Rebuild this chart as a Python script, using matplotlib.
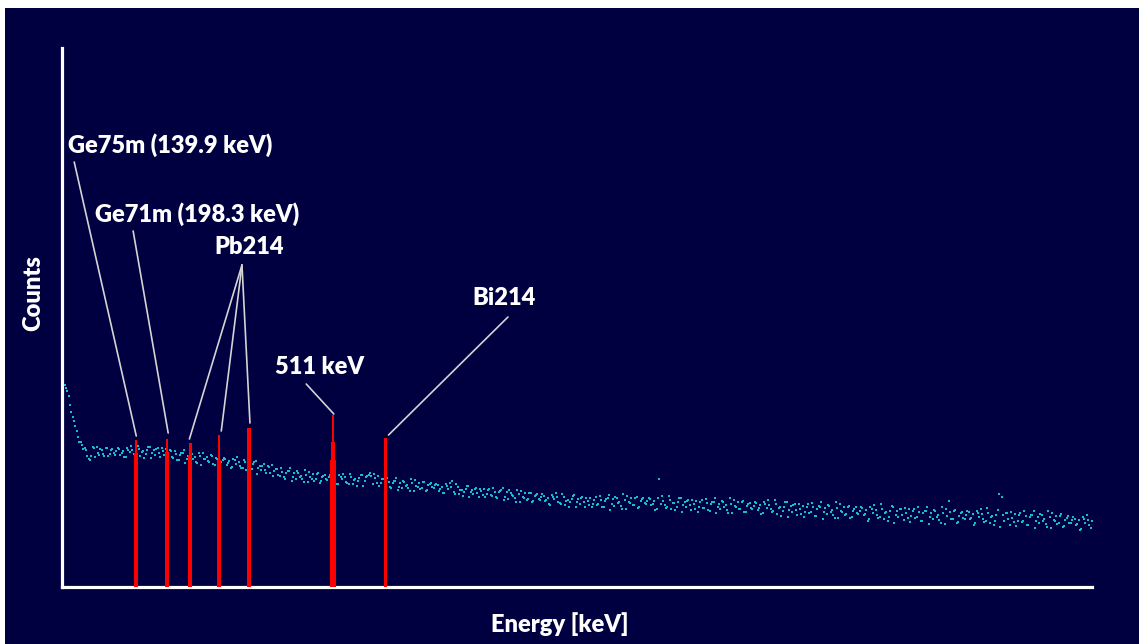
import numpy as np
import matplotlib
matplotlib.use("Agg")
import matplotlib.pyplot as plt
from matplotlib.patches import Rectangle

# gamma spectrum background (arbitrary counts), two interleaved sets of channels (keV)
energy_a = np.concatenate([[2], np.arange(5, 1945, 5)])
counts_a = [294,
    202, 196, 182, 170, 161, 150, 145, 138, 137, 128, 131, 139, 140, 132, 137, 131, 139, 133, 138, 132,
    139, 132, 136, 130, 137, 141, 133, 131, 138, 135, 129, 137, 140, 134, 132, 139, 130, 136, 138, 133,
    136, 129, 133, 127, 134, 137, 128, 126, 133, 130, 124, 131, 134, 128, 126, 132, 123, 129, 131, 125,
    129, 122, 126, 120, 127, 130, 121, 119, 125, 122, 116, 123, 126, 119, 117, 123, 114, 120, 122, 116,
    118, 111, 115, 108, 116, 119, 110, 108, 114, 111, 105, 112, 115, 108, 106, 113, 104, 110, 112, 107,
    112, 105, 109, 103, 110, 113, 105, 103, 110, 107, 101, 109, 112, 106, 111, 114, 103, 109, 111, 104,
    108, 101, 105, 99, 106, 109, 100, 99, 105, 102, 96, 104, 107, 100, 98, 105, 96, 102, 104, 99,
    103, 96, 100, 94, 101, 104, 106, 93, 100, 97, 91, 98, 101, 95, 93, 99, 90, 96, 98, 93,
    98, 91, 95, 89, 96, 99, 90, 88, 94, 91, 85, 93, 96, 89, 87, 94, 85, 91, 93, 87,
    93, 86, 89, 82, 90, 94, 85, 83, 90, 86, 80, 88, 92, 85, 83, 90, 80, 86, 89, 83,
    90, 83, 87, 80, 88, 92, 83, 81, 89, 85, 78, 87, 91, 84, 82, 89, 79, 86, 89, 83,
    89, 82, 86, 78, 108, 91, 82, 80, 87, 84, 77, 85, 89, 82, 80, 87, 77, 83, 86, 80,
    87, 79, 84, 76, 85, 89, 80, 78, 85, 82, 74, 83, 87, 80, 78, 85, 75, 81, 84, 78,
    85, 77, 82, 74, 83, 87, 78, 76, 83, 79, 71, 80, 85, 77, 75, 83, 72, 78, 81, 75,
    83, 75, 80, 71, 81, 85, 75, 73, 81, 77, 69, 79, 83, 75, 72, 80, 69, 76, 80, 73,
    80, 72, 77, 68, 78, 82, 72, 70, 78, 74, 66, 76, 80, 72, 70, 78, 67, 74, 78, 71,
    78, 70, 75, 66, 76, 80, 70, 68, 76, 72, 64, 74, 78, 86, 68, 76, 64, 71, 75, 68,
    76, 68, 73, 64, 74, 78, 68, 66, 74, 70, 62, 72, 93, 90, 66, 74, 62, 69, 73, 66,
    74, 66, 71, 62, 72, 76, 66, 64, 72, 68, 60, 70, 74, 66, 63, 71, 60, 67, 71, 64,
    70, 62, 67, 58, 68, 72, 62, 66]

energy_b = np.arange(7.5, 1940, 5)
counts_b = [
    199, 191, 175, 166, 156, 145, 142, 139, 131, 127, 140, 130, 134, 138, 133, 139, 131, 137, 134, 136,
    138, 134, 130, 139, 135, 137, 132, 141, 131, 136, 133, 140, 129, 137, 138, 134, 139, 132, 130, 137,
    130, 136, 127, 132, 134, 124, 131, 133, 128, 125, 134, 122, 128, 130, 125, 131, 122, 128, 125, 127,
    128, 124, 119, 128, 123, 125, 119, 127, 117, 122, 118, 125, 113, 121, 121, 117, 121, 114, 111, 118,
    112, 119, 110, 114, 116, 106, 114, 116, 110, 108, 117, 105, 110, 113, 108, 114, 106, 111, 108, 110,
    111, 107, 103, 112, 108, 110, 104, 113, 103, 108, 106, 112, 101, 110, 112, 111, 113, 104, 101, 108,
    102, 109, 100, 104, 106, 97, 104, 106, 101, 99, 108, 96, 101, 104, 99, 105, 97, 103, 100, 102,
    102, 98, 94, 103, 98, 100, 95, 103, 93, 97, 95, 101, 90, 97, 98, 94, 98, 92, 90, 97,
    92, 99, 90, 95, 97, 87, 95, 97, 92, 89, 97, 85, 90, 94, 88, 94, 86, 92, 88, 90,
    91, 87, 83, 92, 88, 90, 84, 93, 82, 87, 85, 91, 80, 88, 89, 85, 89, 82, 80, 87,
    82, 91, 80, 86, 89, 77, 88, 90, 84, 81, 93, 78, 85, 89, 82, 90, 80, 88, 84, 86,
    88, 83, 77, 89, 83, 86, 79, 91, 78, 84, 80, 89, 75, 85, 86, 82, 87, 78, 75, 85,
    79, 88, 77, 83, 85, 74, 83, 86, 80, 77, 89, 74, 81, 85, 78, 86, 75, 83, 79, 81,
    84, 79, 73, 85, 79, 82, 75, 87, 73, 80, 76, 85, 70, 81, 82, 77, 83, 73, 70, 80,
    74, 84, 71, 78, 80, 68, 79, 82, 75, 72, 85, 69, 76, 80, 73, 81, 70, 78, 74, 76,
    79, 73, 66, 80, 74, 77, 69, 83, 68, 75, 70, 81, 64, 76, 78, 72, 79, 69, 65, 76,
    69, 80, 66, 74, 76, 63, 74, 77, 70, 67, 80, 63, 71, 75, 68, 77, 65, 74, 69, 72,
    75, 69, 62, 76, 70, 73, 65, 79, 64, 71, 66, 77, 60, 72, 74, 68, 75, 65, 61, 72,
    65, 76, 62, 70, 72, 59, 70, 73, 66, 63, 76, 59, 67, 71, 64, 73, 61, 69, 64, 67,
    68, 63, 57, 70, 64, 67, 59]

# peaks (keV) and bar heights: thin tip, body, wide base
peak_energy = [139.9, 198.3, 241.9, 295.2, 351.9, 511.0, 609.3]
peak_tip = [147, 148, 144, 152, 159, 172, 149]
peak_body = [134, 135, 132, 127, 159, 145, 137]
peak_base = [0, 0, 0, 0, 0, 127, 0]

navy = "#000040"
line_col = "#d4d4d4"
font = ["Lato", "DejaVu Sans"]
fs = 17
fw = "heavy"

fig = plt.figure(figsize=(11.39, 6.44), dpi=100, facecolor="white")
fig.patches.append(Rectangle((5 / 1139, 0), 1, 1 - 8 / 644, transform=fig.transFigure,
                             facecolor=navy, edgecolor="none", zorder=-5))

ax = fig.add_axes([62 / 1139, 1 - 587 / 644, (1092 - 62) / 1139, (587 - 48) / 644])
ax.set_facecolor(navy)
ax.set_xlim(0, 1940)
ax.set_ylim(0, 539)

dot = "#12bfd0"
ax.scatter(energy_a, counts_a, s=3.5, marker="s", color=dot, linewidths=0, zorder=2)
ax.scatter(energy_b, counts_b, s=3.5, marker="s", color=dot, linewidths=0, zorder=2)
ax.bar(peak_energy, peak_tip, width=4.5, color="red", zorder=3)
ax.bar(peak_energy, peak_body, width=7.5, color="red", zorder=3)
ax.bar(peak_energy, peak_base, width=11, color="red", zorder=3)

for s in ["top", "right"]:
    ax.spines[s].set_visible(False)
for s in ["left", "bottom"]:
    ax.spines[s].set_color("white")
    ax.spines[s].set_linewidth(2.3)
ax.set_xticks([])
ax.set_yticks([])

# labels and leader lines
labels = [
    ("Ge75m (139.9 keV)", 12, 442, "left"),
    ("Ge71m (198.3 keV)", 63, 373, "left"),
    ("Pb214", 353, 340, "center"),
    ("511 keV", 486, 220, "center"),
    ("Bi214", 833, 289, "center"),
]
for txt, x, y, ha in labels:
    ax.text(x, y, txt, color="white", fontsize=fs, fontweight=fw, family=font,
            ha=ha, va="center", zorder=5)

leaders = [
    ((23, 425), (139.9, 151)),
    ((134, 356), (200, 154)),
    ((339, 322), (240, 148)),
    ((339, 322), (300, 156)),
    ((339, 322), (354, 164)),
    ((460, 203), (512, 173)),
    ((840, 270), (615, 152)),
]
for start, end in leaders:
    ax.annotate("", xy=end, xytext=start,
                arrowprops=dict(arrowstyle="-", color=line_col, lw=1.2,
                                shrinkA=0, shrinkB=0), zorder=4)

fig.text(33 / 1139, 1 - 293 / 644, "Counts", color="white", fontsize=fs, fontweight=fw,
         family=font, rotation=90, ha="center", va="center")
fig.text(560 / 1139, 1 - 624 / 644, "Energy [keV]", color="white", fontsize=fs,
         fontweight=fw, family=font, ha="center", va="center")

fig.savefig("out.png", dpi=100, facecolor="white")
